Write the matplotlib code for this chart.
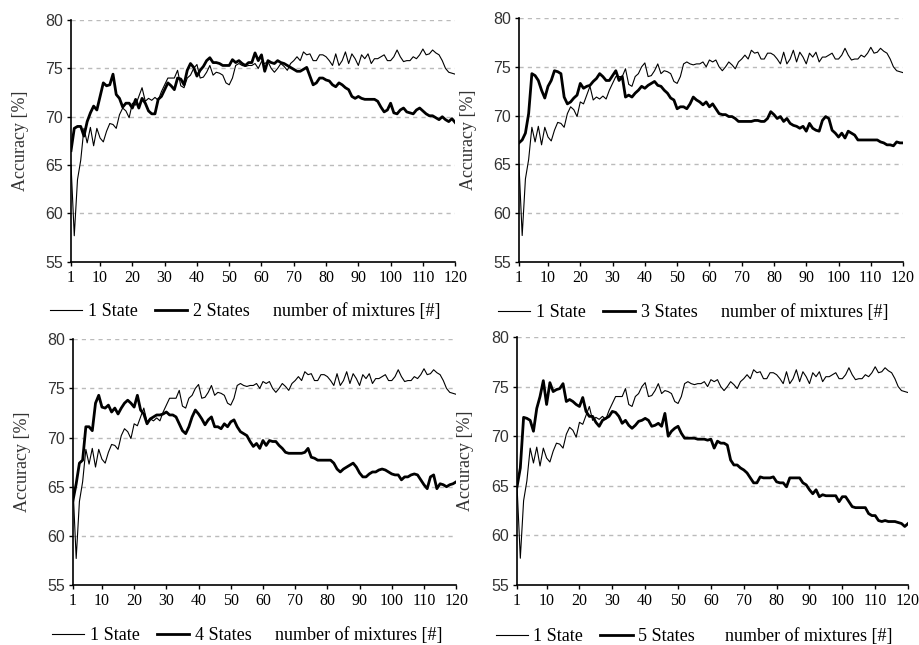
import matplotlib
matplotlib.use("Agg")
import matplotlib.pyplot as plt
from matplotlib.lines import Line2D
import numpy as np

# number of mixtures 1..120
mixtures = np.arange(1, 121)

# 1 State (same baseline in all four panels)
one_state = [
    65.0, 57.7, 63.5, 65.5, 68.8, 67.3, 68.9, 67.0, 68.8, 67.8,
    67.4, 68.5, 69.3, 69.2, 68.8, 70.2, 70.9, 70.6, 69.9, 71.4,
    71.2, 72.1, 73.0, 71.6, 71.9, 71.7, 72.0, 71.7, 72.6, 73.3,
    74.0, 74.0, 74.0, 74.8, 73.2, 73.0, 74.0, 74.3, 75.0, 75.4,
    74.0, 74.1, 74.6, 75.3, 74.3, 74.6, 74.5, 74.3, 73.5, 73.3,
    74.0, 75.3, 75.5, 75.3, 75.2, 75.3, 75.3, 75.5, 75.0, 75.7,
    75.5, 75.7, 75.0, 74.6, 75.0, 75.5, 75.2, 74.8, 75.5, 75.8,
    76.2, 75.8, 76.7, 76.4, 76.5, 75.8, 75.8, 76.4, 76.4, 76.2,
    75.8, 75.3, 76.5, 75.3, 75.8, 76.7, 75.5, 76.5, 76.0, 75.3,
    76.4, 76.0, 76.5, 75.5, 76.0, 76.0, 76.2, 76.4, 75.8, 75.8,
    76.2, 76.9, 76.2, 75.7, 75.8, 75.8, 76.2, 76.0, 76.4, 77.0,
    76.4, 76.5, 76.9, 76.6, 76.4, 75.8, 75.0, 74.6, 74.5, 74.4,
]

two_states = [
    66.5, 68.8, 69.0, 69.0, 68.0, 69.5, 70.4, 71.1, 70.7, 72.1,
    73.5, 73.2, 73.3, 74.4, 72.3, 71.9, 71.0, 71.4, 71.4, 70.9,
    71.8, 70.9, 71.9, 71.4, 70.6, 70.3, 70.3, 71.8, 72.1, 72.8,
    73.5, 73.2, 72.8, 74.0, 73.9, 73.3, 74.8, 75.5, 75.1, 74.2,
    74.8, 75.2, 75.8, 76.1, 75.6, 75.6, 75.5, 75.3, 75.3, 75.3,
    75.9, 75.6, 75.8, 75.5, 75.3, 75.6, 75.6, 76.6, 75.8, 76.4,
    74.7, 75.8, 75.6, 75.5, 75.8, 75.6, 75.5, 75.3, 75.1, 74.9,
    74.7, 74.7, 74.9, 75.1, 74.2, 73.3, 73.5, 74.0, 74.0, 73.8,
    73.7, 73.3, 73.1, 73.5, 73.3, 73.0, 72.8, 72.1, 71.9, 72.1,
    71.9, 71.8, 71.8, 71.8, 71.8, 71.6, 71.0, 70.5, 70.7, 71.4,
    70.4, 70.3, 70.7, 70.9, 70.5, 70.4, 70.3, 70.7, 70.9, 70.6,
    70.3, 70.1, 70.1, 69.9, 69.7, 70.0, 69.7, 69.5, 69.8, 69.4,
]

three_states = [
    67.2, 67.5, 68.2, 70.2, 74.3, 74.1, 73.6, 72.6, 71.8, 73.0,
    73.6, 74.6, 74.5, 74.3, 71.9, 71.2, 71.4, 71.8, 72.1, 73.3,
    72.8, 73.0, 73.1, 73.5, 73.8, 74.3, 74.0, 73.6, 73.6, 74.1,
    74.6, 73.6, 74.0, 71.9, 72.1, 71.9, 72.3, 72.6, 73.0, 72.8,
    73.1, 73.3, 73.5, 73.1, 73.0, 72.6, 72.3, 71.8, 71.6, 70.7,
    70.9, 70.9, 70.7, 71.2, 71.9, 71.6, 71.4, 71.1, 71.4, 70.9,
    71.2, 70.7, 70.2, 70.1, 70.1, 69.9, 69.9, 69.7, 69.4, 69.4,
    69.4, 69.4, 69.4, 69.5, 69.5, 69.4, 69.4, 69.7, 70.4, 70.1,
    69.7, 69.9, 69.4, 69.7, 69.2, 69.0, 68.9, 68.7, 68.9, 68.4,
    69.2, 68.7, 68.5, 68.4, 69.5, 69.9, 69.7, 68.5, 68.2, 67.8,
    68.2, 67.7, 68.4, 68.2, 68.0, 67.5, 67.5, 67.5, 67.5, 67.5,
    67.5, 67.5, 67.3, 67.2, 67.0, 67.0, 66.9, 67.3, 67.2, 67.2,
]

four_states = [
    63.6, 65.3, 67.4, 67.7, 71.1, 71.1, 70.7, 73.5, 74.3, 73.1,
    73.0, 73.3, 72.6, 73.0, 72.4, 73.0, 73.5, 73.8, 73.5, 73.1,
    74.3, 72.8, 72.4, 71.4, 71.9, 72.1, 72.3, 72.3, 72.4, 72.6,
    72.3, 72.3, 72.1, 71.4, 70.7, 70.4, 71.1, 72.1, 72.8, 72.4,
    71.9, 71.3, 71.8, 72.1, 71.1, 71.1, 70.9, 71.4, 71.1, 71.6,
    71.8, 71.1, 70.6, 70.4, 70.2, 69.6, 69.1, 69.4, 68.9, 69.7,
    69.2, 69.7, 69.6, 69.6, 69.2, 68.9, 68.5, 68.4, 68.4, 68.4,
    68.4, 68.4, 68.5, 68.9, 68.0, 67.9, 67.7, 67.7, 67.7, 67.7,
    67.7, 67.4, 66.8, 66.5, 66.8, 67.0, 67.2, 67.4, 67.0, 66.4,
    66.0, 66.0, 66.3, 66.5, 66.5, 66.7, 66.8, 66.7, 66.5, 66.3,
    66.2, 66.2, 65.7, 66.0, 66.0, 66.2, 66.3, 66.2, 65.7, 65.2,
    64.8, 66.0, 66.2, 64.8, 65.3, 65.2, 65.0, 65.2, 65.3, 65.5,
]

five_states = [
    64.9, 66.8, 71.9, 71.8, 71.6, 70.5, 72.8, 74.0, 75.6, 73.2,
    75.4, 74.5, 74.7, 74.8, 75.3, 73.5, 73.7, 73.5, 73.2, 73.0,
    73.9, 72.5, 72.0, 72.0, 71.4, 71.0, 71.6, 71.8, 72.0, 72.5,
    72.4, 72.0, 71.3, 71.6, 71.1, 70.8, 71.1, 71.5, 71.6, 71.8,
    71.6, 71.0, 71.1, 71.3, 71.0, 72.3, 70.0, 70.5, 70.8, 71.0,
    70.3, 69.8, 69.8, 69.8, 69.8, 69.7, 69.7, 69.7, 69.6, 69.7,
    68.8, 69.5, 69.3, 69.3, 69.1, 67.6, 67.1, 67.1, 66.8, 66.6,
    66.3, 65.8, 65.3, 65.3, 65.9, 65.8, 65.8, 65.8, 65.9, 65.4,
    65.3, 65.3, 64.9, 65.8, 65.8, 65.8, 65.8, 65.3, 65.1, 64.6,
    64.2, 64.6, 63.9, 64.1, 64.0, 64.0, 64.0, 64.0, 63.4, 63.9,
    63.9, 63.4, 62.9, 62.8, 62.8, 62.8, 62.8, 62.2, 62.0, 62.0,
    61.5, 61.4, 61.5, 61.4, 61.4, 61.4, 61.3, 61.2, 60.9, 61.2,
]

state_labels = ["2 States", "3 States", "4 States", "5 States"]
x_ticks = [1, 10, 20, 30, 40, 50, 60, 70, 80, 90, 100, 110, 120]
y_ticks = [55, 60, 65, 70, 75, 80]

SERIF = "Liberation Serif"
SANS = "Liberation Sans"

fig = plt.figure(figsize=(9.19, 6.45), dpi=100)

# axes rectangles [left, bottom, width, height] in figure fractions
rects = [
    [0.0773, 0.594, 0.418, 0.375],
    [0.5647, 0.594, 0.418, 0.378],
    [0.0794, 0.093, 0.417, 0.381],
    [0.5626, 0.093, 0.4255, 0.3845],
]
multi = [two_states, three_states, four_states, five_states]

for rect, series, label in zip(rects, multi, state_labels):
    ax = fig.add_axes(rect)
    ax.plot(mixtures, one_state, color="black", lw=0.8)
    ax.plot(mixtures, series, color="black", lw=2.0)

    ax.set_xlim(1, 120)
    ax.set_ylim(55, 80)
    ax.set_xticks(x_ticks)
    ax.set_yticks(y_ticks)
    ax.set_xticklabels([str(t) for t in x_ticks], fontfamily=SERIF, fontsize=11.5)
    ax.set_yticklabels([str(t) for t in y_ticks], fontfamily=SANS, fontsize=11.5,
                       color="#333333")
    ax.tick_params(axis="both", direction="out", length=3, width=1, pad=3)

    # dashed horizontal gridlines
    for g in y_ticks[1:]:
        ax.axhline(g, color="#bbbbbb", lw=1, ls=(0, (3, 3)), zorder=0)

    ax.spines["top"].set_visible(False)
    ax.spines["right"].set_visible(False)
    ax.spines["left"].set_linewidth(1.2)
    ax.spines["bottom"].set_linewidth(1.2)

    ax.set_ylabel("Accuracy [%]", fontfamily=SERIF, fontsize=13, color="#333333")
    ax.yaxis.set_label_coords(-0.11, 0.5)

    handles = [Line2D([], [], color="black", lw=0.8),
               Line2D([], [], color="black", lw=2.0)]
    ax.legend(handles, ["1 State", label], ncol=2, frameon=False,
              loc="center left", bbox_to_anchor=(-0.055, -0.207),
              prop={"family": SERIF, "size": 13},
              handlelength=1.8, handletextpad=0.3, columnspacing=0.95,
              borderaxespad=0, borderpad=0)
    ax.text(0.745, -0.207, "number of mixtures [#]", transform=ax.transAxes,
            ha="center", va="center", fontfamily=SERIF, fontsize=13)

fig.savefig("out.png", dpi=100)
